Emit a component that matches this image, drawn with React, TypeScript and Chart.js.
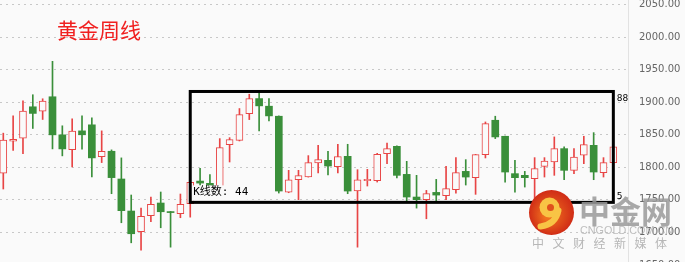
import React, { useEffect, useRef } from 'react';
import { Chart, registerables } from 'chart.js';
Chart.register(...registerables);

// Weekly gold OHLC
const opens = [
  1790.9, 1840.1, 1844.8, 1893.0, 1886.3, 1908.4, 1849.9, 1827.3, 1856.0, 1865.3,
  1816.5, 1824.7, 1782.1, 1732.9, 1701.0, 1725.7, 1745.2, 1731.8, 1728.7, 1744.2,
  1778.9, 1775.4, 1768.0, 1834.9, 1841.5, 1882.6, 1905.6, 1893.9, 1878.5, 1762.0,
  1781.0, 1785.1, 1806.7, 1810.8, 1801.0, 1816.9, 1763.6, 1779.5, 1779.5, 1821.0,
  1832.3, 1789.2, 1754.4, 1750.3, 1761.5, 1756.4, 1765.6, 1793.8, 1784.1, 1819.5,
  1872.3, 1847.7, 1790.3, 1787.7, 1782.6, 1801.5, 1808.2, 1828.7, 1795.4, 1818.5,
  1833.8, 1791.8, 1807.2,
];
const highs = [
  1852.5, 1879.2, 1902.3, 1911.5, 1905.3, 1962.8, 1863.8, 1874.5, 1879.0, 1876.0,
  1856.0, 1826.8, 1814.5, 1757.5, 1737.5, 1754.4, 1762.1, 1732.3, 1759.0, 1777.0,
  1798.5, 1788.7, 1844.1, 1845.6, 1890.3, 1912.3, 1914.4, 1905.6, 1879.0, 1795.4,
  1795.4, 1818.0, 1833.8, 1824.6, 1835.4, 1835.4, 1796.4, 1796.9, 1821.5, 1837.4,
  1833.0, 1809.2, 1787.7, 1764.6, 1781.5, 1801.5, 1814.9, 1811.8, 1820.0, 1869.7,
  1878.5, 1848.0, 1810.8, 1793.8, 1814.9, 1814.9, 1846.7, 1831.3, 1828.7, 1847.7,
  1853.3, 1814.9, 1831.8,
];
const lows = [
  1766.7, 1825.8, 1821.1, 1859.7, 1873.5, 1828.3, 1817.6, 1800.6, 1828.0, 1785.2,
  1807.3, 1759.5, 1714.9, 1684.1, 1672.8, 1716.4, 1707.2, 1677.4, 1722.6, 1723.5,
  1772.3, 1764.6, 1762.0, 1808.2, 1840.5, 1873.3, 1855.9, 1871.3, 1760.5, 1761.0,
  1750.3, 1785.0, 1791.3, 1788.2, 1791.3, 1759.5, 1677.4, 1771.3, 1777.4, 1805.6,
  1783.6, 1748.2, 1737.4, 1721.0, 1748.0, 1750.3, 1760.5, 1772.8, 1758.5, 1814.4,
  1844.1, 1777.4, 1762.0, 1769.7, 1750.0, 1785.1, 1787.7, 1781.0, 1790.3, 1805.6,
  1781.0, 1785.1, 1807.0,
];
const closes = [
  1841.7, 1843.2, 1886.3, 1882.8, 1901.7, 1849.9, 1828.3, 1855.5, 1850.0, 1814.5,
  1824.7, 1784.2, 1733.4, 1698.0, 1724.6, 1743.1, 1731.8, 1730.5, 1743.1, 1776.9,
  1775.8, 1770.8, 1830.3, 1842.6, 1881.0, 1905.6, 1894.4, 1879.0, 1763.6, 1781.0,
  1787.2, 1807.2, 1811.8, 1802.0, 1816.4, 1763.6, 1781.0, 1781.5, 1820.0, 1828.7,
  1787.7, 1754.4, 1750.3, 1759.5, 1757.4, 1767.2, 1791.8, 1785.1, 1819.5, 1867.2,
  1846.7, 1792.8, 1784.1, 1784.1, 1798.0, 1809.7, 1828.7, 1795.4, 1815.9, 1834.9,
  1792.8, 1807.2, 1831.3,
];
const yTicks = [1650, 1700, 1750, 1800, 1850, 1900, 1950, 2000, 2050];
const titleText = '黄金周线';
const boxStart = 19;
const boxEnd = 62;
const boxHigh = 1916.5;
const boxLow = 1746.2;
const boxCountLabel = 'K线数: 44';
const boxTopLabel = '88';
const boxBottomLabel = '5';
const brandName = '中金网';
const brandUrl = 'CNGOLD.COM.CN';
const brandSlogan = ['中', '文', '财', '经', '新', '媒', '体'];

const BG = '#fafafa';
const UP = '#e84545';
const DOWN = '#3a8f3a';
const OFF = 17; // canvas is shifted up by this many px (scale's auto padding)

export default function App() {
  const ref = useRef<HTMLCanvasElement>(null);
  useEffect(() => {
    if (!ref.current) return;
    const idx = opens.map((_, i) => i);
    const up = idx.map((i) => closes[i] >= opens[i]);
    const bodies = idx.map((i) => ({ x: i, y: [opens[i], closes[i]] }));
    const wicks = idx.map((i) => ({ x: i, y: [lows[i], highs[i]] }));

    const bgPlugin = {
      id: 'bg',
      beforeDraw(chart: any) {
        const c = chart.ctx;
        c.save();
        c.fillStyle = BG;
        c.fillRect(0, 0, chart.width, chart.height);
        c.restore();
      },
    };

    const overlay = {
      id: 'overlay',
      afterDraw(chart: any) {
        const c = chart.ctx as CanvasRenderingContext2D;
        const xs = chart.scales.x;
        const ys = chart.scales.y;
        c.save();
        // title
        c.fillStyle = '#f02020';
        c.font = '21px "Noto Sans CJK SC"';
        c.textBaseline = 'middle';
        c.textAlign = 'left';
        c.fillText(titleText, 57, 30 + OFF);

        // box
        const bl = xs.getPixelForValue(boxStart);
        const br = xs.getPixelForValue(boxEnd);
        const bt = ys.getPixelForValue(boxHigh);
        const bb = ys.getPixelForValue(boxLow);
        c.fillStyle = BG;
        c.fillRect(bl + 1.5, bb - 17, 56, 15.5);
        c.fillStyle = '#000';
        c.font = '11px "DejaVu Sans Mono", "Noto Sans CJK SC"';
        c.textBaseline = 'middle';
        c.fillText(boxCountLabel, bl + 3, bb - 10.5);
        c.strokeStyle = '#000';
        c.lineWidth = 3;
        c.strokeRect(bl, bt, br - bl, bb - bt);
        c.font = '9px "DejaVu Sans"';
        c.textBaseline = 'top';
        c.fillText(boxTopLabel, br + 3.5, bt + 3);
        c.textBaseline = 'alphabetic';
        c.fillText(boxBottomLabel, br + 3.5, bb - 3.5);

        // watermark
        const cx = 551.5, cy = 212.5 + OFF;
        const g = c.createRadialGradient(cx - 4, cy + 4, 3, cx, cy, 23);
        g.addColorStop(0, '#f0701e');
        g.addColorStop(1, '#cf2a16');
        c.fillStyle = g;
        c.beginPath();
        c.arc(cx, cy, 22.5, 0, Math.PI * 2);
        c.fill();
        c.fillStyle = '#f8c445';
        c.beginPath();
        c.arc(cx - 2, cy - 5, 10, 0, Math.PI * 2);
        c.fill();
        c.strokeStyle = '#f8c445';
        c.lineWidth = 6;
        c.lineCap = 'round';
        c.beginPath();
        c.moveTo(cx + 7, cy - 2);
        c.quadraticCurveTo(cx + 4, cy + 12, cx - 11, cy + 14);
        c.stroke();
        c.fillStyle = '#e0501c';
        c.beginPath();
        c.arc(cx - 1, cy - 5, 3.5, 0, Math.PI * 2);
        c.fill();

        c.globalAlpha = 0.85;
        c.fillStyle = '#999';
        c.font = 'bold 31px "Noto Sans CJK SC"';
        c.textBaseline = 'middle';
        c.textAlign = 'left';
        c.fillText(brandName, 579, 211 + OFF);
        c.fillStyle = '#b3b3b3';
        c.font = '10.8px "Liberation Sans"';
        c.fillText(brandUrl, 580, 231.5 + OFF);
        c.fillStyle = '#aaa';
        c.font = '12px "Noto Sans CJK SC"';
        c.textAlign = 'center';
        brandSlogan.forEach((ch, i) => c.fillText(ch, 538 + i * 20.5, 243.5 + OFF));
        c.restore();
      },
    };

    const chart = new Chart(ref.current, {
      type: 'bar',
      data: {
        datasets: [
          {
            data: bodies as any,
            order: 0,
            grouped: false,
            barThickness: 7,
            backgroundColor: idx.map((i) => (up[i] ? BG : DOWN)),
            borderColor: idx.map((i) => (up[i] ? UP : DOWN)),
            borderWidth: idx.map((i) => (up[i] ? 1 : 0)),
            borderSkipped: false,
            minBarLength: 1,
          } as any,
          {
            data: wicks as any,
            order: 1,
            grouped: false,
            barThickness: 1,
            backgroundColor: idx.map((i) => (up[i] ? UP : DOWN)),
            borderWidth: 0,
          } as any,
        ],
      },
      options: {
        responsive: false,
        animation: false,
        devicePixelRatio: 1,
        layout: { padding: 0 },
        plugins: {
          legend: { display: false },
          tooltip: { enabled: false },
        },
        scales: {
          x: { type: 'linear', display: false, min: -0.335, max: 63.49, offset: false },
          y: {
            position: 'right',
            min: 1650,
            max: 2057,
            afterBuildTicks: (s: any) => {
              s.ticks = yTicks.map((v) => ({ value: v }));
            },
            afterFit: (s: any) => {
              s.width = 57;
            },
            grid: { color: '#c8c8c8', drawTicks: false, lineWidth: 1 },
            border: { display: true, color: '#e2e2e2', dash: [2, 4] },
            ticks: {
              padding: 11,
              color: '#666',
              font: { family: 'DejaVu Sans', size: 10 },
              callback: (v: any) => Number(v).toFixed(2),
            },
          },
        },
      } as any,
      plugins: [bgPlugin, overlay],
    });
    return () => chart.destroy();
  }, []);

  return (
    <div style={{ position: 'fixed', left: 0, top: 0, width: 685, height: 262, overflow: 'hidden', background: BG }}>
      <canvas ref={ref} width={685} height={299} style={{ position: 'absolute', left: 0, top: -OFF }} />
    </div>
  );
}
